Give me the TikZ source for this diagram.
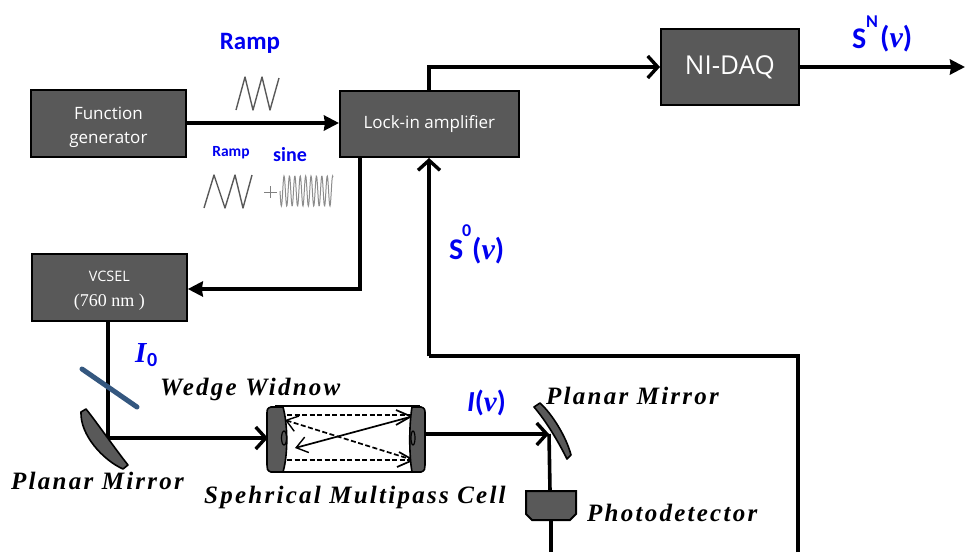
\documentclass[tikz,border=0pt]{standalone}
\usepackage{fontspec}
\setmainfont{Open Sans}
\newfontfamily\blu{Carlito}[BoldFont={Carlito Bold}]
\newfontfamily\serlab{Liberation Serif}[LetterSpace=9]
\usetikzlibrary{arrows.meta,positioning,calc,shadows}
\definecolor{boxgray}{HTML}{595959}
\definecolor{labblue}{HTML}{0000F0}
\definecolor{wedge}{HTML}{34577F}
\tikzset{
  box/.style={draw=black,line width=1.8pt,fill=boxgray,text=white,align=center,inner sep=0pt,anchor=north west,font=\fontsize{17}{24}\selectfont,drop shadow={opacity=.2,shadow xshift=1.5pt,shadow yshift=-1.5pt}},
  conn/.style={line width=3.6pt,draw=black},
  filledtip/.style={-{Stealth[length=15pt,width=15pt,inset=1pt]}},
  opentip/.style={-{Straight Barb[length=10pt,width=22pt,line width=3.4pt]}},
  bluelab/.style={text=labblue,font=\blu\bfseries\fontsize{25}{27}\selectfont,inner sep=0pt},
  optlab/.style={text=black,font=\serlab\bfseries\itshape\fontsize{25}{27}\selectfont,inner sep=0pt,anchor=west},
  optic/.style={draw=black,line width=1.6pt,fill=boxgray},
  wave/.style={draw=black!65,line width=1.4pt,line join=round},
  beam/.style={draw=black,line width=1.7pt},
  beamd/.style={beam,dashed,dash pattern=on 5pt off 2.5pt},
  barb/.style={-{Straight Barb[length=11pt,width=16pt,line width=1.4pt]}}
}
\begin{document}
\begin{tikzpicture}[x=1pt,y=-1pt]
\useasboundingbox (0,0) rectangle (965,552);
% boxes
\node[box,minimum width=155pt,minimum height=67pt] (fg) at (30,89) {\rule{0pt}{21pt}Function\\generator};
\node[box,minimum width=179pt,minimum height=66pt] (lia) at (339,90) {\raisebox{-3pt}{Lock-in amplifier}};
\node[box,minimum width=138pt,minimum height=76pt,font=\fontsize{26}{28}\selectfont] (daq) at (660,28) {\raisebox{-2pt}{NI-DAQ}};
\node[box,minimum width=155pt,minimum height=67pt,font=\fontsize{14.4}{25}\selectfont] (vcsel) at (31,253) {\rule{0pt}{17pt}VCSEL\\{\fontspec{Liberation Serif}\fontsize{18}{25}\selectfont (760 nm )}};
% named free ends
\coordinate (out) at (965,67);
\coordinate (m1) at (108,438);
\coordinate (fbb) at (798,552);
\coordinate (fbc) at (798,356);
\coordinate (fbd) at (429,356);
\coordinate (m2) at (549,434);
\coordinate (pdb) at (551,552);
% connectors
\draw[conn,filledtip] (fg.east |- 0,123) -- (lia.west |- 0,123);
\draw[conn,filledtip] (360,157) -- (360,289) -- (vcsel.east |- 0,289);
\draw[conn,opentip] (429,90) -- (429,67) -- (daq.west |- 0,67);
\draw[conn,filledtip] (daq.east |- out) -- (out);
\draw[conn] (fbb) -- (fbc) -- (fbd);
\draw[conn,opentip] (fbd) -- (429,158);
\draw[conn] (108,321) -- (m1);
\draw[conn,opentip] (m1) -- (268,438);
% waveforms
\draw[wave] (236,110)--(245,77)--(253,110)--(262,77)--(270,110)--(279,78);
\draw[wave] (204,208)--(214,175)--(225,208)--(235,175)--(243,208)--(252,175);
\draw[draw=black!50,line width=1pt] (264,192)--(277,192) (270.5,186)--(270.5,198);
\draw[draw=black!45,line width=1pt,domain=280:333,samples=160,smooth] plot (\x,{191+15*sin(66.67*(\x-280))});
% labels
\node[bluelab] (l1) at (250,43) {Ramp};
\node[bluelab,font=\blu\bfseries\fontsize{15.5}{17}\selectfont] (l2) at (231,153) {Ramp};
\node[bluelab,font=\blu\bfseries\fontsize{20}{22}\selectfont] (l3) at (290,155) {sine};
\node[bluelab,font=\blu\bfseries\fontsize{30}{32}\selectfont,anchor=base west] (sn) at (852,48) {S};
\node[bluelab,font=\blu\bfseries\fontsize{18}{20}\selectfont,anchor=base west] (snn) at (866,27) {N};
\node[bluelab,font=\blu\bfseries\fontsize{30}{32}\selectfont,anchor=base west] (snv) at (880,47) {({\fontspec{Liberation Serif}\itshape\bfseries v})};
\node[bluelab,font=\blu\bfseries\fontsize{30}{32}\selectfont,anchor=base west] (so) at (449,259) {S};
\node[bluelab,font=\blu\bfseries\fontsize{18}{20}\selectfont,anchor=base west] (soo) at (462,236) {0};
\node[bluelab,font=\blu\bfseries\fontsize{30}{32}\selectfont,anchor=base west] (sov) at (472,259) {({\fontspec{Liberation Serif}\itshape\bfseries v})};
\node[bluelab,font=\fontspec{Liberation Serif}\bfseries\itshape\fontsize{29}{31}\selectfont,anchor=base west] (i0) at (135,362) {I};
\node[bluelab,font=\blu\bfseries\fontsize{20}{22}\selectfont,anchor=base west] (i00) at (147,366) {0};
\node[bluelab,font=\blu\bfseries\fontsize{29}{31}\selectfont,anchor=base west] (iv) at (467,411) {\textit{I}({\fontspec{Liberation Serif}\itshape\bfseries v})};
\node[optlab] (t1) at (160,389) {Wedge Widnow};
\node[optlab] (t2) at (11,481) {Planar Mirror};
\node[optlab] (t3) at (204,497) {Spehrical Multipass Cell};
\node[optlab] (t4) at (546,396) {Planar Mirror};
\node[optlab] (t5) at (587,513) {Photodetector};
% wedge window
\draw[wedge,line width=5pt,line cap=round] (82,369)--(137,407);
% first mirror
\draw[optic,line join=round] (81,412) -- (86,409) .. controls (95,420) and (116,450) .. (128,465) -- (123,469) .. controls (103,460) and (80,435) .. cycle;
% cell
\draw[line width=2pt] (275,406)--(420,406) (275,472)--(420,472);
\draw[beamd] (287,415)--(412,415);
\draw[beamd] (287,460)--(412,460);
\draw[beamd,barb] (413,460)--(285,420);
\draw[beam,barb] (410,417)--(295,448);
\draw[beam] (396,410)--(410,416) (396,425)--(410,417) (397,467)--(413,460) (399,452)--(413,460);
\draw[optic] (271,407) -- (283,407) .. controls (288,425) and (288,455) .. (283,472) -- (271,472) .. controls (267,471) and (267,468) .. (267,465) -- (267,414) .. controls (267,410) and (267,408) .. cycle;
\draw[optic] (412,407) -- (421,407) .. controls (425,408) and (425,410) .. (425,414) -- (425,465) .. controls (425,468) and (425,471) .. (421,472) -- (412,472) .. controls (409,455) and (409,425) .. cycle;
\draw[black,fill=boxgray,line width=1.2pt] (284,438) ellipse (2.5pt and 7pt);
\draw[black,fill=boxgray,line width=1.2pt] (413,438) ellipse (2pt and 7pt);
\draw[conn,opentip] (425,434) -- (m2);
% second mirror
\draw[optic,line join=round] (534,407) -- (540,403) .. controls (552,414) and (566,436) .. (571,455) -- (567,459) .. controls (558,441) and (546,421) .. cycle;
\draw[conn] (m2) -- (550,491);
% photodetector
\draw[optic,line width=2pt] (526,491) -- (576,491) -- (576,514) -- (570,520) -- (532,520) -- (526,514) -- cycle;
\draw[conn] (551,520) -- (pdb);
\end{tikzpicture}
\end{document}
